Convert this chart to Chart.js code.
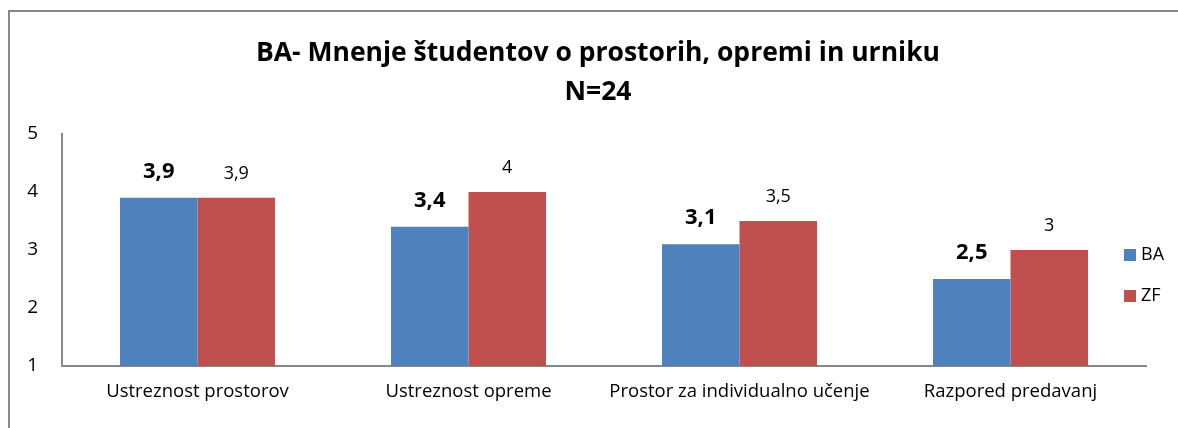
<!DOCTYPE html>
<html>
<head>
<meta charset="utf-8">
<script src="https://cdn.jsdelivr.net/npm/chart.js@4/dist/chart.umd.min.js"></script>
<style>
  html, body { margin: 0; padding: 0; background: #fff; }
  #wrap { position: relative; width: 1178px; height: 428px; overflow: hidden; }
  #frame { position: absolute; left: 8px; top: 10px; width: 1200px; height: 440px;
           border-left: 2px solid #888; border-top: 2px solid #888; box-sizing: border-box; }
  canvas { position: absolute; left: 0; top: 0; }
</style>
</head>
<body>
<div id="wrap">
  <div id="frame"></div>
  <canvas id="costChart" width="1178" height="428"></canvas>
</div>
<script>
// values
const categories = ['Ustreznost prostorov', 'Ustreznost opreme', 'Prostor za individualno učenje', 'Razpored predavanj'];
const seriesNames = ['BA', 'ZF'];
const baValues = [3.9, 3.4, 3.1, 2.5];
const zfValues = [3.9, 4, 3.5, 3];
const titleLines = ['BA- Mnenje študentov o prostorih, opremi in urniku', 'N=24'];
const yTicks = [1, 2, 3, 4, 5];

const FONT = "'Open Sans', 'Liberation Sans', sans-serif";
const colors = ['#4F81BD', '#C0504D'];

// title, centred a bit right of the canvas middle as in the original
const chartTitle = {
    id: 'chartTitle',
    afterDraw(chart) {
        const ctx = chart.ctx;
        ctx.save();
        ctx.textAlign = 'center';
        ctx.textBaseline = 'middle';
        ctx.fillStyle = '#000';
        ctx.font = "bold 26.5px " + FONT;
        titleLines.forEach((line, i) => ctx.fillText(line, 598, 53 + i * 39));
        ctx.restore();
    }
};

// value labels above bars (BA bold, ZF regular)
const valueLabels = {
    id: 'valueLabels',
    afterDatasetsDraw(chart) {
        const ctx = chart.ctx;
        ctx.save();
        ctx.textAlign = 'center';
        ctx.textBaseline = 'middle';
        ctx.fillStyle = '#000';
        chart.data.datasets.forEach((ds, i) => {
            const meta = chart.getDatasetMeta(i);
            ctx.font = i === 0 ? "bold 22px " + FONT : "18px " + FONT;
            const off = i === 0 ? 26 : 24;
            meta.data.forEach((bar, j) => {
                const txt = String(ds.data[j]).replace('.', ',');
                ctx.fillText(txt, bar.x, bar.y - off);
            });
        });
        ctx.restore();
    }
};

// legend drawn at the right, overlapping the axis end like the original
const sideLegend = {
    id: 'sideLegend',
    afterDraw(chart) {
        const ctx = chart.ctx;
        ctx.save();
        ctx.textBaseline = 'middle';
        ctx.textAlign = 'left';
        ctx.font = "18px " + FONT;
        chart.data.datasets.forEach((ds, i) => {
            const y = 255 + i * 41;
            ctx.fillStyle = ds.backgroundColor;
            ctx.fillRect(1124, y - 6, 12, 12);
            ctx.fillStyle = '#000';
            ctx.fillText(ds.label, 1141, y);
        });
        ctx.restore();
    }
};

new Chart(document.getElementById('costChart').getContext('2d'), {
    type: 'bar',
    data: {
        labels: categories,
        datasets: [
            { label: seriesNames[0], data: baValues, backgroundColor: colors[0] },
            { label: seriesNames[1], data: zfValues, backgroundColor: colors[1] }
        ]
    },
    options: {
        responsive: false,
        animation: false,
        layout: { padding: { left: 0, right: 32, top: 134, bottom: 0 } },
        datasets: { bar: { categoryPercentage: 0.572, barPercentage: 1 } },
        plugins: {
            legend: { display: false },
            tooltip: { enabled: false },
            title: { display: false }
        },
        scales: {
            x: {
                grid: { display: false, drawTicks: false },
                border: { color: '#888', width: 2 },
                ticks: { color: '#000', font: { family: FONT, size: 18.5 }, padding: 15, maxRotation: 0 },
                afterFit(s) { s.height = 62; }
            },
            y: {
                min: 1, max: 5,
                afterBuildTicks(s) { s.ticks = yTicks.map(v => ({ value: v })); },
                grid: { display: false, drawTicks: false },
                border: { color: '#888', width: 2 },
                ticks: { color: '#000', font: { family: FONT, size: 19 }, padding: 24 },
                afterFit(s) { s.width = 62; }
            }
        }
    },
    plugins: [valueLabels, sideLegend, chartTitle]
});
</script>
</body>
</html>
